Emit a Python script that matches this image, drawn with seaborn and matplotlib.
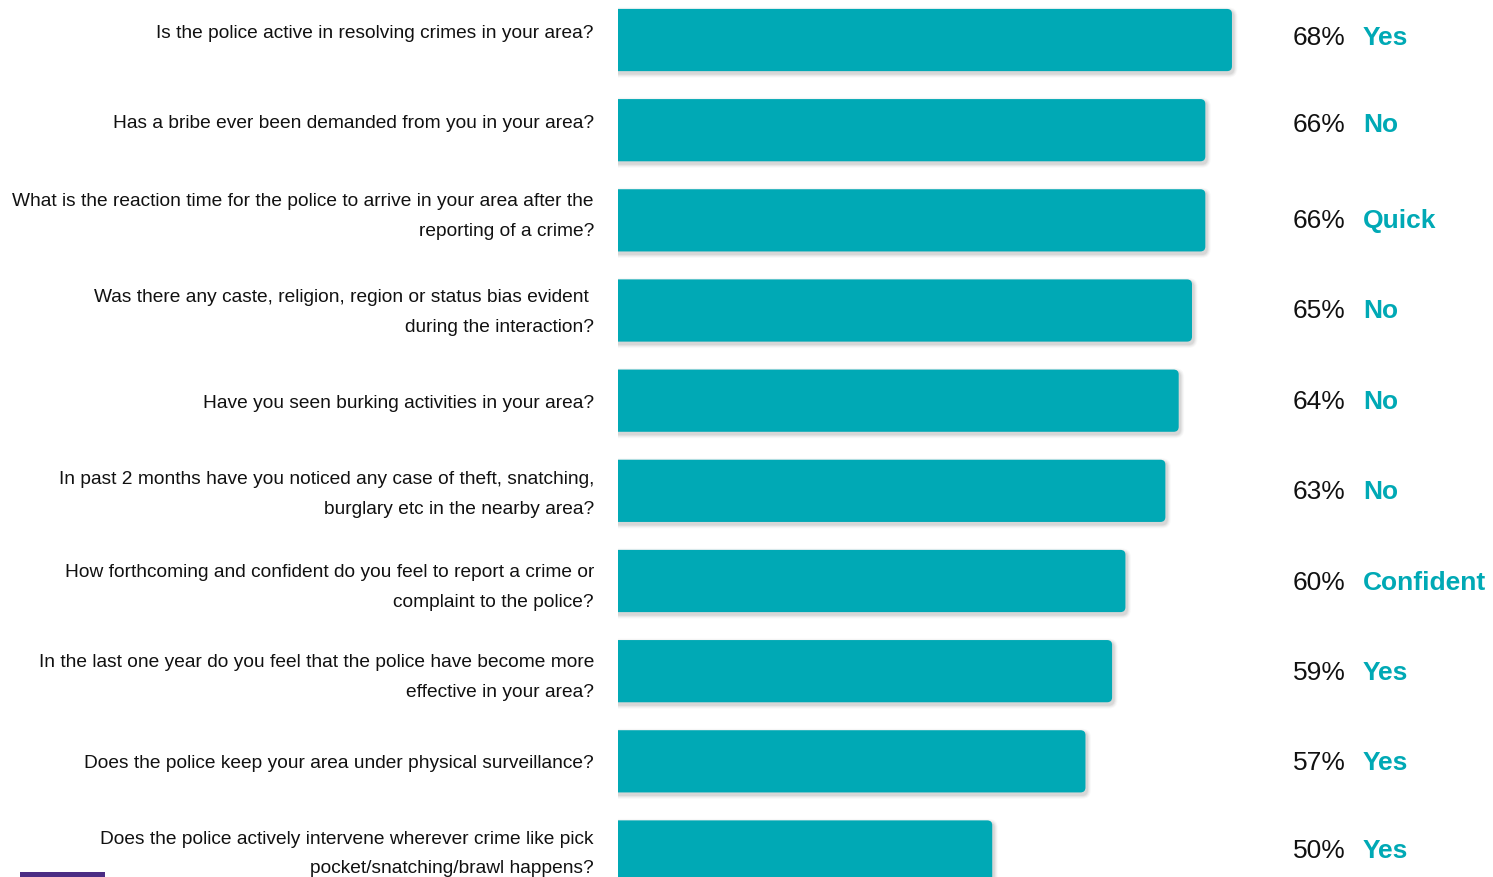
import matplotlib
matplotlib.use("Agg")
import matplotlib.pyplot as plt
import matplotlib.transforms as mtransforms
from matplotlib.patches import FancyBboxPatch, Rectangle
import pandas as pd
import seaborn as sns

# Survey questions, share of the leading answer, and that answer
questions = [
    "Is the police active in resolving crimes in your area?",
    "Has a bribe ever been demanded from you in your area?",
    "What is the reaction time for the police to arrive in your area after the\nreporting of a crime?",
    "Was there any caste, religion, region or status bias evident \nduring the interaction?",
    "Have you seen burking activities in your area?",
    "In past 2 months have you noticed any case of theft, snatching,\nburglary etc in the nearby area?",
    "How forthcoming and confident do you feel to report a crime or\ncomplaint to the police?",
    "In the last one year do you feel that the police have become more\neffective in your area?",
    "Does the police keep your area under physical surveillance?",
    "Does the police actively intervene wherever crime like pick\npocket/snatching/brawl happens?",
]
values = [68, 66, 66, 65, 64, 63, 60, 59, 57, 50]
answers = ["Yes", "No", "Quick", "No", "No", "No", "Confident", "Yes", "Yes", "Yes"]

TEAL = "#00A9B5"
PURPLE = "#4B2C84"
W, H = 1493, 878

sns.set_theme(style="white")
plt.rcParams["font.family"] = ["Liberation Sans", "DejaVu Sans"]

fig = plt.figure(figsize=(W / 100, H / 100), dpi=100)
ax = fig.add_axes([618 / W, 0, 1 - 618 / W, 1])

df = pd.DataFrame({"question": questions, "value": values})
sns.barplot(data=df, x="value", y="question", orient="h", color=TEAL,
            saturation=1, width=0.69, ax=ax)
ax.set_xlim(21.9, 87.6)
ax.set_ylim(9.283, -0.455)
ax.axis("off")

# pixel sizes of one data unit along each axis
fig.canvas.draw()
x0, y0 = ax.transData.transform((0, 0))
x1, y1 = ax.transData.transform((1, 1))
px_x = abs(x1 - x0)
px_y = abs(y1 - y0)
aspect = px_x / px_y

# swap the plain bars for rounded ones with a soft shadow
for bar in list(ax.patches):
    bx, by = bar.get_x(), bar.get_y()
    bw, bh = bar.get_width(), bar.get_height()
    bar.remove()
    for grow, alpha in [(4, 0.025), (3, 0.035), (2, 0.045), (1, 0.06)]:
        gx, gy = grow / px_x, grow / px_y
        sh = FancyBboxPatch((bx - gx + 1.5 / px_x, by - gy + 2.5 / px_y),
                            bw + 2 * gx, bh + 2 * gy,
                            boxstyle=f"round,pad=0,rounding_size={(5 + grow) / px_x}",
                            mutation_aspect=aspect, facecolor="black",
                            edgecolor="none", alpha=alpha, zorder=1)
        ax.add_patch(sh)
    ax.add_patch(FancyBboxPatch((bx, by), bw, bh,
                                boxstyle=f"round,pad=0,rounding_size={5 / px_x}",
                                mutation_aspect=aspect, facecolor=TEAL,
                                edgecolor="none", zorder=2))

# question labels, right-aligned to the left of the bars
row_shift = [-7.5, -7.5, -4.5, 1, 1.5, 3, 5.5, 5.5, 1.5, 1.5]
for i, (q, s) in enumerate(zip(questions, row_shift)):
    tr = mtransforms.offset_copy(ax.get_yaxis_transform(), fig=fig,
                                 x=-24, y=-s, units="dots")
    ax.text(0, i, q, transform=tr, ha="right", va="center",
            multialignment="right", fontsize=13.8, color="#111111",
            linespacing=1.98)

# value and answer labels on the right
lab_tr = mtransforms.blended_transform_factory(fig.transFigure, ax.transData)
pct_shift = [-3.5, -6.5, -0.5, -0.5, 0.5, 0.5, 1.5, 0.5, 0.5, -1.5]
for i, (v, a, s) in enumerate(zip(values, answers, pct_shift)):
    tr = mtransforms.offset_copy(lab_tr, fig=fig, y=-s, units="dots")
    ax.text(1293 / W, i, f"{v}%", transform=tr, ha="left", va="center",
            fontsize=19, color="#111111", clip_on=False)
    ax.text(1363 / W, i, a, transform=tr, ha="left", va="center",
            fontsize=19, fontweight="bold", color=TEAL, clip_on=False)

# small accent strip in the bottom-left corner
fig.add_artist(Rectangle((20 / W, 0), 85 / W, 5 / H, transform=fig.transFigure,
                         facecolor=PURPLE, edgecolor="none"))

fig.savefig("out.png", dpi=100)
